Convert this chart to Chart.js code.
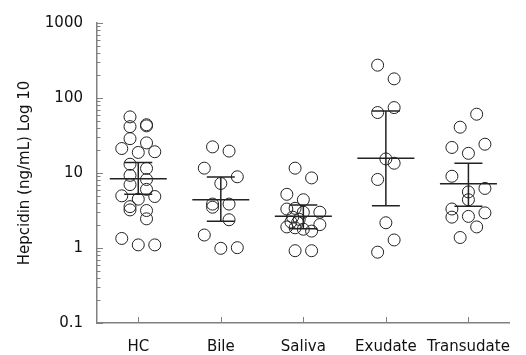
<!DOCTYPE html>
<html><head><meta charset="utf-8">
<script src="https://cdn.jsdelivr.net/npm/chart.js@4"></script>
<style>html,body{margin:0;padding:0;background:#fff}</style>
</head><body>
<canvas id="c" width="526" height="355"></canvas>
<script>
const categories = ['HC', 'Bile', 'Saliva', 'Exudate', 'Transudate'];
const yTickValues = [0.1, 1, 10, 100, 1000];
const yTitle = 'Hepcidin (ng/mL) Log 10';

const hcValues  = [56, 41.5, 42.5, 44, 28.7, 25.2, 21.2, 18.8, 19.2, 13.1, 11.5, 9.3, 8.2, 7.0, 6.05, 4.96, 4.48, 4.86, 3.56, 3.22, 3.16, 2.45, 1.34, 1.10, 1.10];
const hcOffsets = [-0.1, -0.1, 0.1, 0.1, -0.1, 0.1, -0.2, 0, 0.2, -0.1, 0.1, -0.1, 0.1, -0.1, 0.1, -0.2, 0, 0.2, -0.1, -0.1, 0.1, 0.1, -0.2, 0, 0.2];

const bileValues  = [22.3, 19.6, 11.6, 8.9, 7.25, 3.85, 3.5, 3.85, 2.38, 1.49, 0.99, 1.01];
const bileOffsets = [-0.1, 0.1, -0.2, 0.2, 0, -0.1, -0.1, 0.1, 0.1, -0.2, 0, 0.2];

const salivaValues  = [11.6, 8.6, 5.2, 4.4, 3.31, 3.38, 3.0, 3.0, 2.58, 2.41, 2.22, 2.18, 2.05, 1.91, 1.86, 1.78, 1.68, 0.92, 0.92];
const salivaOffsets = [-0.1, 0.1, -0.2, 0, -0.2, -0.1, 0, 0.2, -0.13, -0.05, -0.15, -0.07, 0.2, -0.2, -0.1, 0, 0.1, -0.1, 0.1];

const exudateValues  = [274, 180, 64, 74.5, 15.4, 13.5, 8.2, 2.17, 1.28, 0.88];
const exudateOffsets = [-0.1, 0.1, -0.1, 0.1, 0, 0.1, -0.1, 0, 0.1, -0.1];

const transudateValues  = [60.8, 40.8, 24.2, 21.9, 18.3, 9.05, 6.23, 5.6, 4.4, 3.31, 2.58, 2.64, 2.94, 1.91, 1.38];
const transudateOffsets = [0.1, -0.1, 0.2, -0.2, 0, -0.2, 0.2, 0, 0, -0.2, -0.2, 0, 0.2, 0.1, -0.1];

const medians = [8.4, 4.4, 2.66, 15.7, 7.2];
const q1 = [5.2, 2.27, 1.8, 3.67, 3.6];
const q3 = [13.8, 8.87, 3.74, 67, 13.5];

const groups = [
  [hcValues, hcOffsets],
  [bileValues, bileOffsets],
  [salivaValues, salivaOffsets],
  [exudateValues, exudateOffsets],
  [transudateValues, transudateOffsets]
];

const FONT = 'DejaVu Sans';
const AXIS_COLOR = '#808080';
const TEXT_COLOR = '#111';

const datasets = groups.map(([vals, offs], gi) => ({
  label: categories[gi],
  data: vals.map((v, k) => ({ x: gi + offs[k], y: v })),
  pointRadius: 6,
  pointHoverRadius: 6,
  borderWidth: 1,
  borderColor: '#222',
  backgroundColor: 'rgba(0,0,0,0)'
}));

const decorPlugin = {
  id: 'decor',
  afterDatasetsDraw(chart) {
    const ctx = chart.ctx, xs = chart.scales.x, ys = chart.scales.y;
    ctx.save();
    ctx.strokeStyle = '#222';
    ctx.lineWidth = 1.5;
    categories.forEach((c, i) => {
      const px = xs.getPixelForValue(i);
      const ym = ys.getPixelForValue(medians[i]);
      const y1 = ys.getPixelForValue(q1[i]);
      const y3 = ys.getPixelForValue(q3[i]);
      ctx.beginPath();
      ctx.moveTo(px - 28.5, ym); ctx.lineTo(px + 28.5, ym);
      ctx.moveTo(px, y3); ctx.lineTo(px, y1);
      ctx.moveTo(px - 14, y3); ctx.lineTo(px + 14, y3);
      ctx.moveTo(px - 14, y1); ctx.lineTo(px + 14, y1);
      ctx.stroke();
    });
    ctx.restore();
  },
  afterDraw(chart) {
    const ctx = chart.ctx, xs = chart.scales.x, ys = chart.scales.y;
    const area = chart.chartArea;
    ctx.save();
    ctx.strokeStyle = AXIS_COLOR;
    ctx.lineWidth = 1;
    ctx.beginPath();
    for (let e = -1; e <= 3; e++) {
      for (let m = 1; m <= 9; m++) {
        const v = m * Math.pow(10, e);
        if (v > 1000 + 1e-9) break;
        const py = Math.round(ys.getPixelForValue(v)) + 0.5;
        const len = m === 1 ? 6 : 3.5;
        ctx.moveTo(area.left, py); ctx.lineTo(area.left + len, py);
      }
    }
    categories.forEach((c, i) => {
      const px = Math.round(xs.getPixelForValue(i)) + 0.5;
      ctx.moveTo(px, area.bottom); ctx.lineTo(px, area.bottom - 6);
    });
    ctx.stroke();
    ctx.restore();
  }
};

new Chart(document.getElementById('c'), {
  type: 'scatter',
  data: { datasets },
  options: {
    responsive: false,
    animation: false,
    devicePixelRatio: 1,
    layout: { padding: { top: 17, right: 11, left: 0, bottom: 0 } },
    plugins: { legend: { display: false }, tooltip: { enabled: false } },
    scales: {
      x: {
        type: 'linear', min: -0.5, max: 4.5,
        afterBuildTicks: s => { s.ticks = categories.map((c, i) => ({ value: i })); },
        afterFit: s => { s.height = 32; },
        ticks: { callback: v => categories[v], font: { family: FONT, size: 15 }, color: TEXT_COLOR, padding: 15, autoSkip: false, maxRotation: 0 },
        grid: { display: false, drawTicks: false },
        border: { color: AXIS_COLOR, width: 1.5 }
      },
      y: {
        type: 'logarithmic', min: 0.1, max: 1000,
        afterBuildTicks: s => { s.ticks = yTickValues.map(v => ({ value: v })); },
        afterFit: s => { s.width = 97; },
        ticks: { callback: v => String(v), font: { family: FONT, size: 15 }, color: TEXT_COLOR, padding: 14, autoSkip: false },
        grid: { display: false, drawTicks: false },
        border: { color: AXIS_COLOR, width: 1.5 },
        title: { display: true, text: yTitle, font: { family: FONT, size: 15 }, color: TEXT_COLOR, padding: { top: 16, bottom: 0 } }
      }
    }
  },
  plugins: [decorPlugin]
});
</script>
</body></html>
